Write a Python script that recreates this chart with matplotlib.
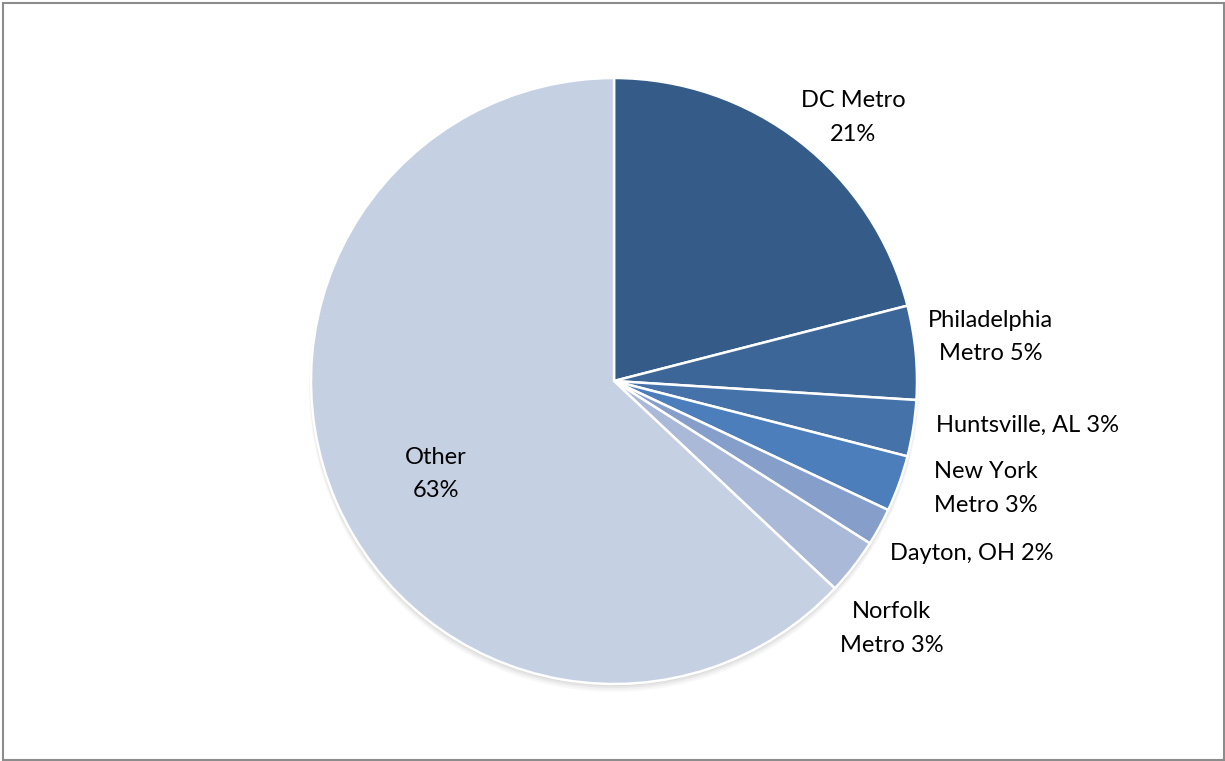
import numpy as np
import matplotlib
matplotlib.use("Agg")
import matplotlib.pyplot as plt
from matplotlib.patches import Circle, Rectangle

plt.rcParams['font.family'] = ['Lato', 'DejaVu Sans']

# Доли по регионам, %
regions = ['DC Metro', 'Philadelphia Metro', 'Huntsville, AL', 'New York Metro',
           'Dayton, OH', 'Norfolk Metro', 'Other']
shares = [21, 5, 3, 3, 2, 3, 63]
labels = ['DC Metro\n21%', 'Philadelphia\nMetro 5%', 'Huntsville, AL 3%',
          'New York\nMetro 3%', 'Dayton, OH 2%', 'Norfolk\nMetro 3%', 'Other\n63%']
colors = ['#355c88', '#3c6598', '#4672aa', '#4c7ebb', '#859fca', '#aab9d8', '#c5d0e3']

# куда ставить подписи (в радиусах круга от центра)
label_xy = [(0.79, 0.87), (1.244, 0.145), (1.366, -0.145), (1.228, -0.356),
            (1.181, -0.568), (0.917, -0.818), (-0.587, -0.307)]

W, H = 1225, 761
cx, cy, R = 614, 381, 303

fig = plt.figure(figsize=(W / 100, H / 100), dpi=100)
ax = fig.add_axes([0, 0, 1, 1])

# лёгкая тень под кругом (в основном снизу)
for i, a in enumerate([0.04, 0.05, 0.07, 0.09]):
    k = 4 - i
    ax.add_patch(Circle((0, -0.005 * k), 1.0 + 0.0015 * k,
                        color='#606060', alpha=a, lw=0, zorder=0))

wedges, _ = ax.pie(shares, colors=colors, startangle=90, counterclock=False,
                   radius=1.0, center=(0, 0), frame=True,
                   wedgeprops=dict(edgecolor='white', linewidth=1.8))
ax.set_xlim(-cx / R, (W - cx) / R)
ax.set_ylim(-(H - cy) / R, cy / R)
ax.set_aspect('auto')
ax.axis('off')

for (x, y), txt in zip(label_xy, labels):
    ax.text(x, y, txt, ha='center', va='center', fontsize=17,
            linespacing=1.75, color='black')

# рамка вокруг области диаграммы
fig.patches.append(Rectangle((3 / W, 1 / H), (W - 4) / W, (H - 4) / H,
                             transform=fig.transFigure, fill=False,
                             edgecolor='#8c8c8c', lw=1.5))

fig.savefig('out.png', dpi=100)
